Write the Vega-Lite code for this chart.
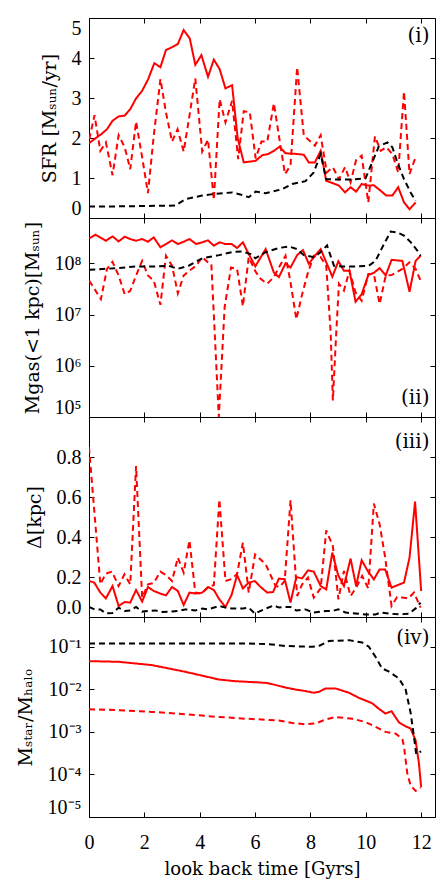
{
"$schema": "https://vega.github.io/schema/vega-lite/v6.json",
"padding": {"left": 15, "top": 17, "right": 8, "bottom": 0},
"background": "white",
"config": {
 "view": {"stroke": "#000", "strokeWidth": 1},
 "axis": {"domain": false, "grid": false, "ticks": true, "tickColor": "#000", "tickSize": -5, "tickWidth": 1,
  "labelFont": "Liberation Serif", "labelFontSize": 20, "labelColor": "#000", "labelPadding": 13,
  "titleFont": "DejaVu Serif", "titleFontSize": 19, "titleFontWeight": "normal", "titleColor": "#000", "titlePadding": 12}
},
"datasets": {
 "p1": [
  {"t":0,"v":1.87,"s":"a"},{"t":0.23,"v":1.99,"s":"a"},{"t":0.45,"v":2.1,"s":"a"},{"t":0.65,"v":2.22,"s":"a"},{"t":0.85,"v":2.43,"s":"a"},{"t":1.07,"v":2.54,"s":"a"},{"t":1.29,"v":2.56,"s":"a"},{"t":1.49,"v":2.72,"s":"a"},{"t":1.7,"v":2.99,"s":"a"},{"t":1.92,"v":3.18,"s":"a"},{"t":2.13,"v":3.46,"s":"a"},{"t":2.36,"v":3.87,"s":"a"},{"t":2.58,"v":3.77,"s":"a"},{"t":2.78,"v":4.2,"s":"a"},{"t":3.0,"v":4.27,"s":"a"},{"t":3.21,"v":4.35,"s":"a"},{"t":3.42,"v":4.7,"s":"a"},{"t":3.64,"v":4.49,"s":"a"},{"t":3.84,"v":3.83,"s":"a"},{"t":4.06,"v":4.07,"s":"a"},{"t":4.3,"v":3.53,"s":"a"},{"t":4.51,"v":3.96,"s":"a"},{"t":4.72,"v":3.72,"s":"a"},{"t":4.93,"v":3.24,"s":"a"},{"t":5.17,"v":3.32,"s":"a"},{"t":5.37,"v":2.0,"s":"a"},{"t":5.59,"v":1.39,"s":"a"},{"t":5.81,"v":1.41,"s":"a"},{"t":6.02,"v":1.43,"s":"a"},{"t":6.26,"v":1.57,"s":"a"},{"t":6.47,"v":1.6,"s":"a"},{"t":6.68,"v":1.68,"s":"a"},{"t":6.88,"v":1.78,"s":"a"},{"t":7.1,"v":1.62,"s":"a"},{"t":7.31,"v":1.61,"s":"a"},{"t":7.52,"v":1.6,"s":"a"},{"t":7.76,"v":1.58,"s":"a"},{"t":7.94,"v":1.39,"s":"a"},{"t":8.16,"v":1.39,"s":"a"},{"t":8.37,"v":1.68,"s":"a"},{"t":8.57,"v":0.93,"s":"a"},{"t":8.81,"v":0.87,"s":"a"},{"t":9.03,"v":0.81,"s":"a"},{"t":9.25,"v":0.64,"s":"a"},{"t":9.45,"v":0.77,"s":"a"},{"t":9.65,"v":0.66,"s":"a"},{"t":9.85,"v":0.85,"s":"a"},{"t":10.09,"v":0.81,"s":"a"},{"t":10.29,"v":0.82,"s":"a"},{"t":10.54,"v":0.68,"s":"a"},{"t":10.74,"v":0.56,"s":"a"},{"t":10.96,"v":0.56,"s":"a"},{"t":11.17,"v":0.77,"s":"a"},{"t":11.38,"v":0.39,"s":"a"},{"t":11.58,"v":0.22,"s":"a"},{"t":11.8,"v":0.39,"s":"a"},
  {"t":0.01,"v":1.97,"s":"b"},{"t":0.2,"v":2.57,"s":"b"},{"t":0.41,"v":1.68,"s":"b"},{"t":0.61,"v":1.89,"s":"b"},{"t":0.85,"v":1.07,"s":"b"},{"t":1.07,"v":2.07,"s":"b"},{"t":1.29,"v":1.77,"s":"b"},{"t":1.49,"v":1.22,"s":"b"},{"t":1.7,"v":2.41,"s":"b"},{"t":1.92,"v":1.52,"s":"b"},{"t":2.13,"v":0.62,"s":"b"},{"t":2.34,"v":2.06,"s":"b"},{"t":2.58,"v":3.47,"s":"b"},{"t":2.78,"v":2.64,"s":"b"},{"t":3.0,"v":1.91,"s":"b"},{"t":3.2,"v":2.22,"s":"b"},{"t":3.42,"v":1.66,"s":"b"},{"t":3.63,"v":2.56,"s":"b"},{"t":3.84,"v":3.49,"s":"b"},{"t":4.09,"v":1.66,"s":"b"},{"t":4.3,"v":1.96,"s":"b"},{"t":4.51,"v":0.45,"s":"b"},{"t":4.72,"v":2.97,"s":"b"},{"t":4.93,"v":2.39,"s":"b"},{"t":5.17,"v":2.93,"s":"b"},{"t":5.39,"v":1.47,"s":"b"},{"t":5.59,"v":2.67,"s":"b"},{"t":5.81,"v":2.64,"s":"b"},{"t":6.02,"v":1.49,"s":"b"},{"t":6.23,"v":1.91,"s":"b"},{"t":6.44,"v":1.91,"s":"b"},{"t":6.68,"v":2.87,"s":"b"},{"t":6.88,"v":1.97,"s":"b"},{"t":7.08,"v":1.1,"s":"b"},{"t":7.28,"v":1.31,"s":"b"},{"t":7.52,"v":3.77,"s":"b"},{"t":7.76,"v":2.06,"s":"b"},{"t":7.94,"v":1.95,"s":"b"},{"t":8.16,"v":1.81,"s":"b"},{"t":8.37,"v":2.07,"s":"b"},{"t":8.59,"v":1.14,"s":"b"},{"t":8.81,"v":1.27,"s":"b"},{"t":9.03,"v":0.97,"s":"b"},{"t":9.25,"v":1.27,"s":"b"},{"t":9.45,"v":0.89,"s":"b"},{"t":9.65,"v":1.45,"s":"b"},{"t":9.85,"v":1.56,"s":"b"},{"t":10.09,"v":0.39,"s":"b"},{"t":10.33,"v":2.04,"s":"b"},{"t":10.54,"v":1.68,"s":"b"},{"t":10.74,"v":1.77,"s":"b"},{"t":10.96,"v":1.6,"s":"b"},{"t":11.17,"v":1.14,"s":"b"},{"t":11.38,"v":3.16,"s":"b"},{"t":11.58,"v":1.1,"s":"b"},{"t":11.8,"v":1.52,"s":"b"},
  {"t":0,"v":0.29,"s":"c"},{"t":1,"v":0.29,"s":"c"},{"t":2,"v":0.3,"s":"c"},{"t":3.11,"v":0.31,"s":"c"},{"t":3.48,"v":0.47,"s":"c"},{"t":4.09,"v":0.56,"s":"c"},{"t":4.5,"v":0.6,"s":"c"},{"t":5.17,"v":0.64,"s":"c"},{"t":5.5,"v":0.58,"s":"c"},{"t":5.77,"v":0.52,"s":"c"},{"t":6.02,"v":0.66,"s":"c"},{"t":6.38,"v":0.62,"s":"c"},{"t":6.98,"v":0.72,"s":"c"},{"t":7.34,"v":0.85,"s":"c"},{"t":7.82,"v":0.92,"s":"c"},{"t":8.12,"v":1.14,"s":"c"},{"t":8.37,"v":1.6,"s":"c"},{"t":8.57,"v":0.97,"s":"c"},{"t":9.03,"v":0.96,"s":"c"},{"t":9.51,"v":0.96,"s":"c"},{"t":9.99,"v":0.99,"s":"c"},{"t":10.23,"v":1.39,"s":"c"},{"t":10.47,"v":1.79,"s":"c"},{"t":10.78,"v":1.89,"s":"c"},{"t":10.96,"v":1.77,"s":"c"},{"t":11.14,"v":1.39,"s":"c"},{"t":11.38,"v":0.97,"s":"c"},{"t":11.62,"v":0.64,"s":"c"},{"t":11.8,"v":0.43,"s":"c"}
 ],
 "p2": [
  {"t":0.01,"v":3.08e8,"s":"a"},{"t":0.23,"v":3.63e8,"s":"a"},{"t":0.43,"v":3.16e8,"s":"a"},{"t":0.61,"v":2.77e8,"s":"a"},{"t":0.85,"v":3.37e8,"s":"a"},{"t":1.07,"v":2.69e8,"s":"a"},{"t":1.29,"v":3.32e8,"s":"a"},{"t":1.49,"v":2.99e8,"s":"a"},{"t":1.7,"v":2.77e8,"s":"a"},{"t":1.92,"v":2.99e8,"s":"a"},{"t":2.13,"v":2.65e8,"s":"a"},{"t":2.34,"v":3.22e8,"s":"a"},{"t":2.58,"v":2.06e8,"s":"a"},{"t":2.78,"v":2.39e8,"s":"a"},{"t":3.0,"v":2.82e8,"s":"a"},{"t":3.21,"v":2.39e8,"s":"a"},{"t":3.42,"v":2.65e8,"s":"a"},{"t":3.63,"v":2.99e8,"s":"a"},{"t":3.87,"v":2.39e8,"s":"a"},{"t":4.09,"v":2.58e8,"s":"a"},{"t":4.3,"v":2.82e8,"s":"a"},{"t":4.51,"v":2.22e8,"s":"a"},{"t":4.71,"v":2.58e8,"s":"a"},{"t":4.93,"v":2.39e8,"s":"a"},{"t":5.15,"v":2.39e8,"s":"a"},{"t":5.35,"v":2.0e8,"s":"a"},{"t":5.56,"v":2.58e8,"s":"a"},{"t":5.77,"v":1.52e8,"s":"a"},{"t":6.01,"v":8.75e7,"s":"a"},{"t":6.38,"v":1.9e8,"s":"a"},{"t":6.68,"v":6.6e7,"s":"a"},{"t":6.86,"v":5.4e7,"s":"a"},{"t":7.1,"v":1.0e8,"s":"a"},{"t":7.28,"v":8.3e7,"s":"a"},{"t":7.52,"v":1.45e8,"s":"a"},{"t":7.73,"v":1.82e8,"s":"a"},{"t":7.94,"v":9.8e7,"s":"a"},{"t":8.16,"v":1.41e8,"s":"a"},{"t":8.37,"v":1.9e8,"s":"a"},{"t":8.79,"v":5.5e7,"s":"a"},{"t":9.01,"v":1.1e8,"s":"a"},{"t":9.21,"v":7.2e7,"s":"a"},{"t":9.41,"v":7.2e7,"s":"a"},{"t":9.63,"v":1.78e7,"s":"a"},{"t":9.85,"v":2.5e7,"s":"a"},{"t":10.09,"v":5.9e7,"s":"a"},{"t":10.3,"v":6.6e7,"s":"a"},{"t":10.5,"v":8.1e7,"s":"a"},{"t":10.72,"v":5.8e7,"s":"a"},{"t":10.93,"v":1.17e8,"s":"a"},{"t":11.32,"v":1.12e8,"s":"a"},{"t":11.58,"v":2.8e7,"s":"a"},{"t":11.8,"v":1.12e8,"s":"a"},{"t":11.98,"v":1.41e8,"s":"a"},
  {"t":0.01,"v":4.6e7,"s":"b"},{"t":0.43,"v":2.0e7,"s":"b"},{"t":0.65,"v":7.8e7,"s":"b"},{"t":0.85,"v":1.07e8,"s":"b"},{"t":1.07,"v":5.8e7,"s":"b"},{"t":1.29,"v":2.5e7,"s":"b"},{"t":1.49,"v":2.9e7,"s":"b"},{"t":1.7,"v":5.8e7,"s":"b"},{"t":1.92,"v":1.12e8,"s":"b"},{"t":2.13,"v":5.8e7,"s":"b"},{"t":2.34,"v":4.6e7,"s":"b"},{"t":2.58,"v":1.55e7,"s":"b"},{"t":2.78,"v":1.41e8,"s":"b"},{"t":3.0,"v":9.0e7,"s":"b"},{"t":3.21,"v":2.6e7,"s":"b"},{"t":3.42,"v":5.8e7,"s":"b"},{"t":3.63,"v":7.2e7,"s":"b"},{"t":3.87,"v":9.0e7,"s":"b"},{"t":4.09,"v":1.32e8,"s":"b"},{"t":4.3,"v":1.05e8,"s":"b"},{"t":4.42,"v":9.8e7,"s":"b"},{"t":4.69,"v":1.0e5,"s":"b"},{"t":4.9,"v":1.4e7,"s":"b"},{"t":5.13,"v":8.3e7,"s":"b"},{"t":5.35,"v":7.8e7,"s":"b"},{"t":5.56,"v":1.45e7,"s":"b"},{"t":5.77,"v":1.32e8,"s":"b"},{"t":6.01,"v":7.0e7,"s":"b"},{"t":6.2,"v":5.0e7,"s":"b"},{"t":6.44,"v":4.0e7,"s":"b"},{"t":6.68,"v":5.4e7,"s":"b"},{"t":6.86,"v":8.3e7,"s":"b"},{"t":7.1,"v":1.41e8,"s":"b"},{"t":7.28,"v":4.3e7,"s":"b"},{"t":7.49,"v":8.1e6,"s":"b"},{"t":7.7,"v":2.5e7,"s":"b"},{"t":7.91,"v":6.6e7,"s":"b"},{"t":8.12,"v":1.41e8,"s":"b"},{"t":8.37,"v":1.32e8,"s":"b"},{"t":8.57,"v":9.0e7,"s":"b"},{"t":8.73,"v":4.5e6,"s":"b"},{"t":8.81,"v":2.1e5,"s":"b"},{"t":8.93,"v":4.2e6,"s":"b"},{"t":9.03,"v":4.0e7,"s":"b"},{"t":9.21,"v":2.95e7,"s":"b"},{"t":9.41,"v":7.2e7,"s":"b"},{"t":9.63,"v":2.7e7,"s":"b"},{"t":9.85,"v":1.86e7,"s":"b"},{"t":10.09,"v":6.2e7,"s":"b"},{"t":10.29,"v":6.2e7,"s":"b"},{"t":10.5,"v":1.62e7,"s":"b"},{"t":10.72,"v":5.8e7,"s":"b"},{"t":10.93,"v":5.9e7,"s":"b"},{"t":11.32,"v":7.8e7,"s":"b"},{"t":11.58,"v":1.05e8,"s":"b"},{"t":11.8,"v":7.8e7,"s":"b"},{"t":11.98,"v":4.6e7,"s":"b"},
  {"t":0.01,"v":7.5e7,"s":"c"},{"t":1.07,"v":8.1e7,"s":"c"},{"t":1.7,"v":8.7e7,"s":"c"},{"t":2.4,"v":8.7e7,"s":"c"},{"t":2.88,"v":9.0e7,"s":"c"},{"t":3.2,"v":7.8e7,"s":"c"},{"t":3.6,"v":9.0e7,"s":"c"},{"t":4.09,"v":1.26e8,"s":"c"},{"t":4.7,"v":1.45e8,"s":"c"},{"t":5.17,"v":1.66e8,"s":"c"},{"t":5.55,"v":1.72e8,"s":"c"},{"t":5.84,"v":1.51e8,"s":"c"},{"t":6.01,"v":1.26e8,"s":"c"},{"t":6.38,"v":1.66e8,"s":"c"},{"t":6.86,"v":2.0e8,"s":"c"},{"t":7.22,"v":2.14e8,"s":"c"},{"t":7.52,"v":1.9e8,"s":"c"},{"t":7.76,"v":1.45e8,"s":"c"},{"t":8.12,"v":1.32e8,"s":"c"},{"t":8.37,"v":1.66e8,"s":"c"},{"t":8.6,"v":2.24e8,"s":"c"},{"t":8.85,"v":9.0e7,"s":"c"},{"t":9.15,"v":8.7e7,"s":"c"},{"t":9.63,"v":8.7e7,"s":"c"},{"t":10.11,"v":9.0e7,"s":"c"},{"t":10.35,"v":1.12e8,"s":"c"},{"t":10.66,"v":2.4e8,"s":"c"},{"t":10.9,"v":4.2e8,"s":"c"},{"t":11.14,"v":4.0e8,"s":"c"},{"t":11.38,"v":3.5e8,"s":"c"},{"t":11.62,"v":2.6e8,"s":"c"},{"t":11.86,"v":1.78e8,"s":"c"},{"t":11.98,"v":1.41e8,"s":"c"}
 ],
 "p3": [
  {"t":0,"v":0.18,"s":"a"},{"t":0.19,"v":0.172,"s":"a"},{"t":0.41,"v":0.122,"s":"a"},{"t":0.61,"v":0.093,"s":"a"},{"t":0.85,"v":0.155,"s":"a"},{"t":1.07,"v":0.055,"s":"a"},{"t":1.29,"v":0.075,"s":"a"},{"t":1.49,"v":0.072,"s":"a"},{"t":1.7,"v":0.135,"s":"a"},{"t":1.92,"v":0.077,"s":"a"},{"t":2.13,"v":0.15,"s":"a"},{"t":2.34,"v":0.13,"s":"a"},{"t":2.58,"v":0.117,"s":"a"},{"t":2.78,"v":0.108,"s":"a"},{"t":3.0,"v":0.15,"s":"a"},{"t":3.21,"v":0.13,"s":"a"},{"t":3.42,"v":0.06,"s":"a"},{"t":3.63,"v":0.122,"s":"a"},{"t":3.84,"v":0.117,"s":"a"},{"t":4.09,"v":0.122,"s":"a"},{"t":4.3,"v":0.15,"s":"a"},{"t":4.51,"v":0.135,"s":"a"},{"t":4.71,"v":0.088,"s":"a"},{"t":4.93,"v":0.05,"s":"a"},{"t":5.15,"v":0.11,"s":"a"},{"t":5.35,"v":0.21,"s":"a"},{"t":5.56,"v":0.143,"s":"a"},{"t":5.77,"v":0.172,"s":"a"},{"t":5.99,"v":0.18,"s":"a"},{"t":6.2,"v":0.15,"s":"a"},{"t":6.44,"v":0.122,"s":"a"},{"t":6.65,"v":0.125,"s":"a"},{"t":6.86,"v":0.192,"s":"a"},{"t":7.07,"v":0.189,"s":"a"},{"t":7.28,"v":0.072,"s":"a"},{"t":7.49,"v":0.2,"s":"a"},{"t":7.7,"v":0.193,"s":"a"},{"t":7.91,"v":0.233,"s":"a"},{"t":8.12,"v":0.227,"s":"a"},{"t":8.37,"v":0.155,"s":"a"},{"t":8.57,"v":0.138,"s":"a"},{"t":8.79,"v":0.322,"s":"a"},{"t":9.0,"v":0.21,"s":"a"},{"t":9.21,"v":0.155,"s":"a"},{"t":9.45,"v":0.292,"s":"a"},{"t":9.65,"v":0.155,"s":"a"},{"t":9.85,"v":0.284,"s":"a"},{"t":10.07,"v":0.23,"s":"a"},{"t":10.29,"v":0.188,"s":"a"},{"t":10.5,"v":0.238,"s":"a"},{"t":10.7,"v":0.238,"s":"a"},{"t":10.93,"v":0.147,"s":"a"},{"t":11.38,"v":0.172,"s":"a"},{"t":11.58,"v":0.297,"s":"a"},{"t":11.78,"v":0.577,"s":"a"},{"t":12.0,"v":0.13,"s":"a"},
  {"t":0,"v":0.85,"s":"b"},{"t":0.41,"v":0.164,"s":"b"},{"t":0.61,"v":0.217,"s":"b"},{"t":0.83,"v":0.227,"s":"b"},{"t":1.07,"v":0.155,"s":"b"},{"t":1.28,"v":0.213,"s":"b"},{"t":1.49,"v":0.163,"s":"b"},{"t":1.7,"v":0.755,"s":"b"},{"t":1.92,"v":0.097,"s":"b"},{"t":2.13,"v":0.163,"s":"b"},{"t":2.34,"v":0.17,"s":"b"},{"t":2.58,"v":0.227,"s":"b"},{"t":2.78,"v":0.21,"s":"b"},{"t":3.0,"v":0.18,"s":"b"},{"t":3.21,"v":0.297,"s":"b"},{"t":3.42,"v":0.222,"s":"b"},{"t":3.63,"v":0.383,"s":"b"},{"t":3.84,"v":0.122,"s":"b"},{"t":4.06,"v":0.117,"s":"b"},{"t":4.3,"v":0.147,"s":"b"},{"t":4.51,"v":0.16,"s":"b"},{"t":4.71,"v":0.588,"s":"b"},{"t":4.93,"v":0.18,"s":"b"},{"t":5.15,"v":0.19,"s":"b"},{"t":5.35,"v":0.215,"s":"b"},{"t":5.56,"v":0.372,"s":"b"},{"t":5.77,"v":0.122,"s":"b"},{"t":6.0,"v":0.313,"s":"b"},{"t":6.38,"v":0.264,"s":"b"},{"t":6.74,"v":0.155,"s":"b"},{"t":6.88,"v":0.15,"s":"b"},{"t":7.07,"v":0.18,"s":"b"},{"t":7.28,"v":0.583,"s":"b"},{"t":7.52,"v":0.105,"s":"b"},{"t":7.7,"v":0.163,"s":"b"},{"t":7.91,"v":0.197,"s":"b"},{"t":8.12,"v":0.097,"s":"b"},{"t":8.37,"v":0.143,"s":"b"},{"t":8.57,"v":0.433,"s":"b"},{"t":8.81,"v":0.355,"s":"b"},{"t":9.01,"v":0.088,"s":"b"},{"t":9.21,"v":0.23,"s":"b"},{"t":9.45,"v":0.105,"s":"b"},{"t":9.65,"v":0.147,"s":"b"},{"t":9.87,"v":0.205,"s":"b"},{"t":10.09,"v":0.143,"s":"b"},{"t":10.29,"v":0.567,"s":"b"},{"t":10.5,"v":0.463,"s":"b"},{"t":10.7,"v":0.297,"s":"b"},{"t":10.93,"v":0.055,"s":"b"},{"t":11.13,"v":0.1,"s":"b"},{"t":11.32,"v":0.097,"s":"b"},{"t":11.54,"v":0.093,"s":"b"},{"t":11.74,"v":0.122,"s":"b"},{"t":11.98,"v":0.047,"s":"b"},
  {"t":0,"v":0.05,"s":"c"},{"t":0.2,"v":0.038,"s":"c"},{"t":0.41,"v":0.038,"s":"c"},{"t":0.61,"v":0.018,"s":"c"},{"t":0.85,"v":0.02,"s":"c"},{"t":1.07,"v":0.047,"s":"c"},{"t":1.29,"v":0.03,"s":"c"},{"t":1.49,"v":0.033,"s":"c"},{"t":1.7,"v":0.05,"s":"c"},{"t":1.92,"v":0.027,"s":"c"},{"t":2.13,"v":0.03,"s":"c"},{"t":2.4,"v":0.033,"s":"c"},{"t":2.65,"v":0.025,"s":"c"},{"t":3.0,"v":0.027,"s":"c"},{"t":3.21,"v":0.03,"s":"c"},{"t":3.47,"v":0.038,"s":"c"},{"t":3.84,"v":0.033,"s":"c"},{"t":4.09,"v":0.042,"s":"c"},{"t":4.3,"v":0.038,"s":"c"},{"t":4.71,"v":0.055,"s":"c"},{"t":4.93,"v":0.047,"s":"c"},{"t":5.15,"v":0.043,"s":"c"},{"t":5.56,"v":0.043,"s":"c"},{"t":5.77,"v":0.047,"s":"c"},{"t":5.99,"v":0.017,"s":"c"},{"t":6.38,"v":0.042,"s":"c"},{"t":6.68,"v":0.058,"s":"c"},{"t":6.86,"v":0.047,"s":"c"},{"t":7.1,"v":0.05,"s":"c"},{"t":7.28,"v":0.05,"s":"c"},{"t":7.49,"v":0.033,"s":"c"},{"t":7.82,"v":0.038,"s":"c"},{"t":8.12,"v":0.022,"s":"c"},{"t":8.37,"v":0.027,"s":"c"},{"t":8.57,"v":0.03,"s":"c"},{"t":8.79,"v":0.03,"s":"c"},{"t":9.01,"v":0.038,"s":"c"},{"t":9.27,"v":0.022,"s":"c"},{"t":9.63,"v":0.017,"s":"c"},{"t":9.99,"v":0.013,"s":"c"},{"t":10.35,"v":0.013,"s":"c"},{"t":10.54,"v":0.022,"s":"c"},{"t":10.84,"v":0.017,"s":"c"},{"t":11.2,"v":0.013,"s":"c"},{"t":11.56,"v":0.017,"s":"c"},{"t":11.8,"v":0.043,"s":"c"},{"t":11.98,"v":0.072,"s":"c"}
 ],
 "p4": [
  {"t":0,"v":0.0459,"s":"a"},{"t":1.07,"v":0.0443,"s":"a"},{"t":2.28,"v":0.037,"s":"a"},{"t":3.48,"v":0.0258,"s":"a"},{"t":4.69,"v":0.017,"s":"a"},{"t":5.29,"v":0.0155,"s":"a"},{"t":6.13,"v":0.0145,"s":"a"},{"t":6.44,"v":0.0141,"s":"a"},{"t":7.1,"v":0.011,"s":"a"},{"t":7.46,"v":0.0099,"s":"a"},{"t":7.82,"v":0.0091,"s":"a"},{"t":8.12,"v":0.0083,"s":"a"},{"t":8.3,"v":0.0087,"s":"a"},{"t":8.55,"v":0.0105,"s":"a"},{"t":8.91,"v":0.0105,"s":"a"},{"t":9.39,"v":0.0083,"s":"a"},{"t":9.75,"v":0.0063,"s":"a"},{"t":10.23,"v":0.0047,"s":"a"},{"t":10.47,"v":0.0035,"s":"a"},{"t":10.71,"v":0.0027,"s":"a"},{"t":10.93,"v":0.00305,"s":"a"},{"t":11.2,"v":0.00166,"s":"a"},{"t":11.44,"v":0.00135,"s":"a"},{"t":11.62,"v":0.0012,"s":"a"},{"t":11.8,"v":0.00063,"s":"a"},{"t":11.92,"v":0.00018,"s":"a"},{"t":12.0,"v":0.00005,"s":"a"},
  {"t":0,"v":0.0034,"s":"b"},{"t":1.07,"v":0.00324,"s":"b"},{"t":2.28,"v":0.00295,"s":"b"},{"t":3.48,"v":0.0026,"s":"b"},{"t":4.69,"v":0.00224,"s":"b"},{"t":5.65,"v":0.00204,"s":"b"},{"t":6.86,"v":0.00186,"s":"b"},{"t":7.34,"v":0.00162,"s":"b"},{"t":7.82,"v":0.00151,"s":"b"},{"t":8.18,"v":0.00157,"s":"b"},{"t":8.55,"v":0.00195,"s":"b"},{"t":8.91,"v":0.00224,"s":"b"},{"t":9.51,"v":0.00204,"s":"b"},{"t":9.99,"v":0.0017,"s":"b"},{"t":10.35,"v":0.00132,"s":"b"},{"t":10.71,"v":0.001,"s":"b"},{"t":11.08,"v":0.00091,"s":"b"},{"t":11.32,"v":0.00069,"s":"b"},{"t":11.38,"v":0.00045,"s":"b"},{"t":11.5,"v":0.000105,"s":"b"},{"t":11.62,"v":0.000055,"s":"b"},{"t":11.8,"v":0.000041,"s":"b"},{"t":11.98,"v":0.000049,"s":"b"},
  {"t":0,"v":0.12,"s":"c"},{"t":2.5,"v":0.12,"s":"c"},{"t":5.53,"v":0.12,"s":"c"},{"t":6.5,"v":0.115,"s":"c"},{"t":7.1,"v":0.104,"s":"c"},{"t":8.06,"v":0.1,"s":"c"},{"t":8.3,"v":0.104,"s":"c"},{"t":8.67,"v":0.136,"s":"c"},{"t":9.39,"v":0.143,"s":"c"},{"t":9.87,"v":0.126,"s":"c"},{"t":10.11,"v":0.1,"s":"c"},{"t":10.35,"v":0.058,"s":"c"},{"t":10.59,"v":0.031,"s":"c"},{"t":10.84,"v":0.026,"s":"c"},{"t":11.2,"v":0.018,"s":"c"},{"t":11.44,"v":0.0098,"s":"c"},{"t":11.62,"v":0.0028,"s":"c"},{"t":11.74,"v":0.00078,"s":"c"},{"t":11.82,"v":0.0003,"s":"c"},{"t":12.0,"v":0.00035,"s":"c"}
 ]
},
"vconcat": [
 {
  "width": 346, "height": 200,
  "data": {"name": "p1"},
  "layer": [
   {"mark": {"type": "line", "clip": true, "strokeWidth": 2},
    "encoding": {
     "x": {"field": "t", "type": "quantitative", "scale": {"domain": [0, 12.5], "nice": false, "zero": false}, "axis": {"orient": "bottom", "values": [0,2,4,6,8,10,12], "labels": false, "title": null}},
     "y": {"field": "v", "type": "quantitative", "scale": {"domain": [0, 5], "nice": false}, "axis": {"orient": "left", "values": [0,1,2,3,4,5], "labelFlush": true, "title": "SFR [Mₛᵤₙ/yr]"}},
     "color": {"field": "s", "type": "nominal", "scale": {"domain": ["a","b","c"], "range": ["#ff0000","#ff0000","#000000"]}, "legend": null},
     "strokeDash": {"field": "s", "type": "nominal", "scale": {"domain": ["a","b","c"], "range": [[1,0],[6,4],[6,4]]}, "legend": null}
    }},
   {"mark": {"type": "point", "opacity": 0},
    "encoding": {
     "x": {"field": "t", "type": "quantitative", "axis": {"orient": "top", "values": [0,2,4,6,8,10,12], "labels": false, "title": null}},
     "y": {"field": "v", "type": "quantitative", "axis": {"orient": "right", "values": [0,1,2,3,4,5], "labels": false, "title": null}}
    }},
   {"data": {"values": [{"lab": "(i)"}]},
    "mark": {"type": "text", "align": "right", "baseline": "middle", "font": "DejaVu Serif", "fontSize": 20, "color": "#000"},
    "encoding": {"x": {"datum": 12.3, "type": "quantitative", "axis": null}, "y": {"datum": 4.56, "type": "quantitative", "axis": null}, "text": {"field": "lab"}}}
  ],
  "resolve": {"axis": {"x": "independent", "y": "independent"}}
 },
 {
  "width": 346, "height": 199,
  "data": {"name": "p2"},
  "layer": [
   {"mark": {"type": "line", "clip": true, "strokeWidth": 2},
    "encoding": {
     "x": {"field": "t", "type": "quantitative", "scale": {"domain": [0, 12.5], "nice": false, "zero": false}, "axis": {"orient": "bottom", "values": [0,2,4,6,8,10,12], "labels": false, "title": null}},
     "y": {"field": "v", "type": "quantitative", "scale": {"type": "log", "domain": [100000, 770000000], "nice": false}, "axis": {"orient": "left", "values": [100000, 1000000, 10000000, 100000000], "labelFlush": true, "labelExpr": "datum.value < 2e5 ? '10⁵' : datum.value < 2e6 ? '10⁶' : datum.value < 2e7 ? '10⁷' : '10⁸'", "title": "Mgas(<1 kpc)[Mₛᵤₙ]"}},
     "color": {"field": "s", "type": "nominal", "scale": {"domain": ["a","b","c"], "range": ["#ff0000","#ff0000","#000000"]}, "legend": null},
     "strokeDash": {"field": "s", "type": "nominal", "scale": {"domain": ["a","b","c"], "range": [[1,0],[6,4],[6,4]]}, "legend": null}
    }},
   {"mark": {"type": "point", "opacity": 0},
    "encoding": {
     "x": {"field": "t", "type": "quantitative", "axis": {"orient": "top", "values": [0,2,4,6,8,10,12], "labels": false, "title": null}},
     "y": {"field": "v", "type": "quantitative", "axis": {"orient": "right", "values": [100000, 1000000, 10000000, 100000000], "labels": false, "title": null}}
    }},
   {"data": {"values": [{"lab": "(ii)"}]},
    "mark": {"type": "text", "align": "right", "baseline": "middle", "font": "DejaVu Serif", "fontSize": 20, "color": "#000"},
    "encoding": {"x": {"datum": 12.3, "type": "quantitative", "axis": null}, "y": {"datum": 240000, "type": "quantitative", "axis": null}, "text": {"field": "lab"}}}
  ],
  "resolve": {"axis": {"x": "independent", "y": "independent"}}
 },
 {
  "width": 346, "height": 200,
  "data": {"name": "p3"},
  "layer": [
   {"mark": {"type": "line", "clip": true, "strokeWidth": 2},
    "encoding": {
     "x": {"field": "t", "type": "quantitative", "scale": {"domain": [0, 12.5], "nice": false, "zero": false}, "axis": {"orient": "bottom", "values": [0,2,4,6,8,10,12], "labels": false, "title": null}},
     "y": {"field": "v", "type": "quantitative", "scale": {"domain": [0, 1], "nice": false}, "axis": {"orient": "left", "values": [0, 0.2, 0.4, 0.6, 0.8], "format": ".1f", "labelFlush": true, "title": "Δ[kpc]"}},
     "color": {"field": "s", "type": "nominal", "scale": {"domain": ["a","b","c"], "range": ["#ff0000","#ff0000","#000000"]}, "legend": null},
     "strokeDash": {"field": "s", "type": "nominal", "scale": {"domain": ["a","b","c"], "range": [[1,0],[6,4],[6,4]]}, "legend": null}
    }},
   {"mark": {"type": "point", "opacity": 0},
    "encoding": {
     "x": {"field": "t", "type": "quantitative", "axis": {"orient": "top", "values": [0,2,4,6,8,10,12], "labels": false, "title": null}},
     "y": {"field": "v", "type": "quantitative", "axis": {"orient": "right", "values": [0, 0.2, 0.4, 0.6, 0.8], "labels": false, "title": null}}
    }},
   {"data": {"values": [{"lab": "(iii)"}]},
    "mark": {"type": "text", "align": "right", "baseline": "middle", "font": "DejaVu Serif", "fontSize": 20, "color": "#000"},
    "encoding": {"x": {"datum": 12.3, "type": "quantitative", "axis": null}, "y": {"datum": 0.876, "type": "quantitative", "axis": null}, "text": {"field": "lab"}}}
  ],
  "resolve": {"axis": {"x": "independent", "y": "independent"}}
 },
 {
  "width": 346, "height": 200,
  "data": {"name": "p4"},
  "layer": [
   {"mark": {"type": "line", "clip": true, "strokeWidth": 2},
    "encoding": {
     "x": {"field": "t", "type": "quantitative", "scale": {"domain": [0, 12.5], "nice": false, "zero": false}, "axis": {"orient": "bottom", "values": [0,2,4,6,8,10,12], "labelPadding": 20, "labelFlush": false, "title": "look back time [Gyrs]", "titleFontSize": 18, "titlePadding": 8}},
     "y": {"field": "v", "type": "quantitative", "scale": {"type": "log", "domain": [0.00001, 0.5], "nice": false}, "axis": {"orient": "left", "values": [0.00001, 0.0001, 0.001, 0.01, 0.1], "labelFlush": true, "labelExpr": "datum.value < 2e-5 ? '10⁻⁵' : datum.value < 2e-4 ? '10⁻⁴' : datum.value < 2e-3 ? '10⁻³' : datum.value < 2e-2 ? '10⁻²' : '10⁻¹'", "title": "Mₛₜₐᵣ/Mₕₐₗₒ"}},
     "color": {"field": "s", "type": "nominal", "scale": {"domain": ["a","b","c"], "range": ["#ff0000","#ff0000","#000000"]}, "legend": null},
     "strokeDash": {"field": "s", "type": "nominal", "scale": {"domain": ["a","b","c"], "range": [[1,0],[6,4],[6,4]]}, "legend": null}
    }},
   {"mark": {"type": "point", "opacity": 0},
    "encoding": {
     "x": {"field": "t", "type": "quantitative", "axis": {"orient": "top", "values": [0,2,4,6,8,10,12], "labels": false, "title": null}},
     "y": {"field": "v", "type": "quantitative", "axis": {"orient": "right", "values": [0.00001, 0.0001, 0.001, 0.01, 0.1], "labels": false, "title": null}}
    }},
   {"data": {"values": [{"lab": "(iv)"}]},
    "mark": {"type": "text", "align": "right", "baseline": "middle", "font": "DejaVu Serif", "fontSize": 20, "color": "#000"},
    "encoding": {"x": {"datum": 12.3, "type": "quantitative", "axis": null}, "y": {"datum": 0.157, "type": "quantitative", "axis": null}, "text": {"field": "lab"}}}
  ],
  "resolve": {"axis": {"x": "independent", "y": "independent"}}
 }
],
"spacing": 0,
"bounds": "flush"
}
